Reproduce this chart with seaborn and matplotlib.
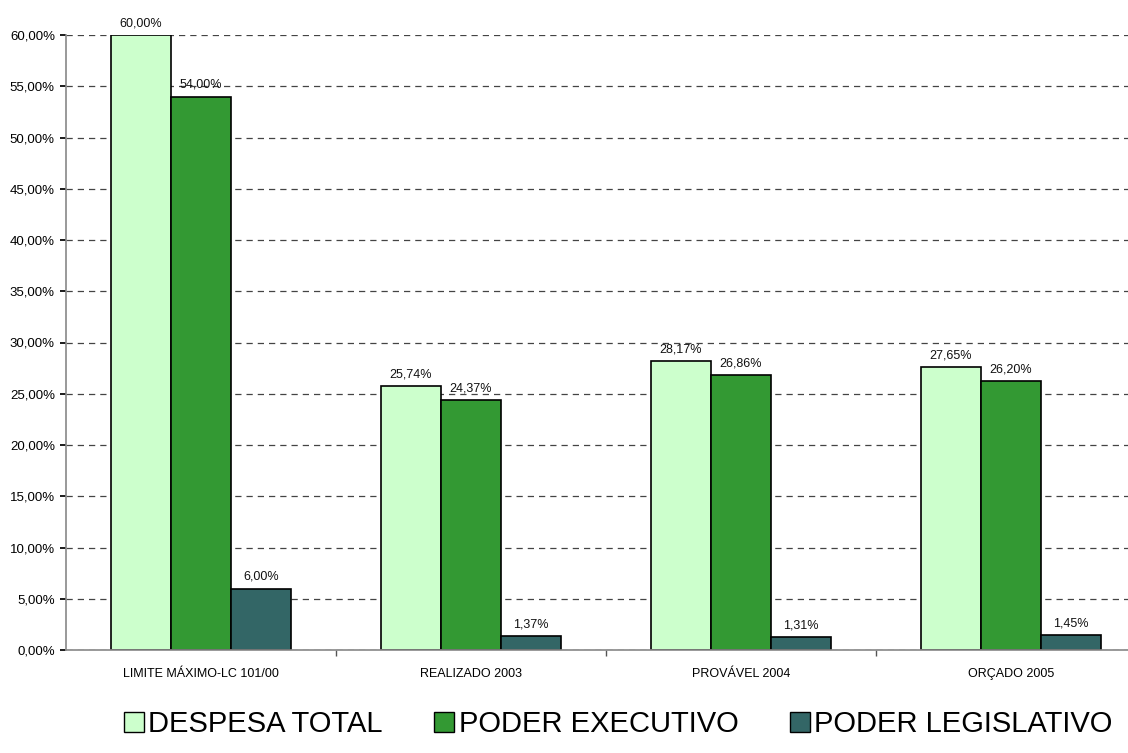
import matplotlib
matplotlib.use("Agg")
import matplotlib.pyplot as plt
import seaborn as sns
import pandas as pd
from matplotlib.lines import Line2D

categories = ["LIMITE MÁXIMO-LC 101/00", "REALIZADO 2003", "PROVÁVEL 2004", "ORÇADO 2005"]
series = ["DESPESA TOTAL", "PODER EXECUTIVO", "PODER LEGISLATIVO"]
despesa_total = [60.00, 25.74, 28.17, 27.65]
poder_executivo = [54.00, 24.37, 26.86, 26.20]
poder_legislativo = [6.00, 1.37, 1.31, 1.45]
colors = ["#CCFFCC", "#339933", "#336666"]

rows = []
for s, vals in zip(series, [despesa_total, poder_executivo, poder_legislativo]):
    for c, v in zip(categories, vals):
        rows.append({"cat": c, "serie": s, "val": v})
df = pd.DataFrame(rows)

sns.set_theme(style="white")
plt.rcParams["font.family"] = ["Liberation Sans", "DejaVu Sans"]
plt.rcParams["text.color"] = "black"
plt.rcParams["xtick.color"] = "black"
plt.rcParams["ytick.color"] = "black"

fig = plt.figure(figsize=(11.28, 7.53), dpi=100)
ax = fig.add_axes([66/1128, 1-650/753, 1080/1128, 615/753])

sns.barplot(data=df, x="cat", y="val", hue="serie", palette=colors,
            width=0.667, edgecolor="black", linewidth=1.2, ax=ax,
            legend=False, saturation=1, errorbar=None)

for cont in ax.containers:
    labels = [f"{b.get_height():.2f}".replace(".", ",") + "%" for b in cont]
    ax.bar_label(cont, labels=labels, padding=4, fontsize=9, color="#111111")

ax.set_ylim(0, 60)
ax.set_xlim(-0.5, 3.5)
ax.set_yticks(range(0, 61, 5))
ax.set_yticklabels([f"{v:.2f}".replace(".", ",") + "%" for v in range(0, 61, 5)], fontsize=9.5)
ax.yaxis.grid(True, linestyle=(0, (5, 4)), color="#444444", linewidth=0.9)
ax.set_axisbelow(True)
ax.set_xlabel("")
ax.set_ylabel("")
ax.tick_params(axis="x", labelsize=9, length=0, pad=13)
ax.tick_params(axis="y", length=4, direction="out", left=True, pad=4)
ax.set_xticks([0.5, 1.5, 2.5], minor=True)
ax.tick_params(axis="x", which="minor", length=4, bottom=True, color="#555555", direction="out")
for t in ax.get_yticklines():
    t.set_color("#777777")
for sp in ["top", "right"]:
    ax.spines[sp].set_visible(False)
for sp in ["left", "bottom"]:
    ax.spines[sp].set_color("#888888")
    ax.spines[sp].set_linewidth(1.2)

handles = [Line2D([], [], marker="s", linestyle="none", markersize=14,
                  markerfacecolor=c, markeredgecolor="black", markeredgewidth=1.0)
           for c in colors]
fig.legend(handles, series, loc="center", bbox_to_anchor=(0.546, 1-724/753),
           ncol=3, frameon=False, prop={"family": "Liberation Sans", "size": 21},
           handletextpad=0.0, columnspacing=1.6, handlelength=1.0)

fig.savefig("out.png", dpi=100)
